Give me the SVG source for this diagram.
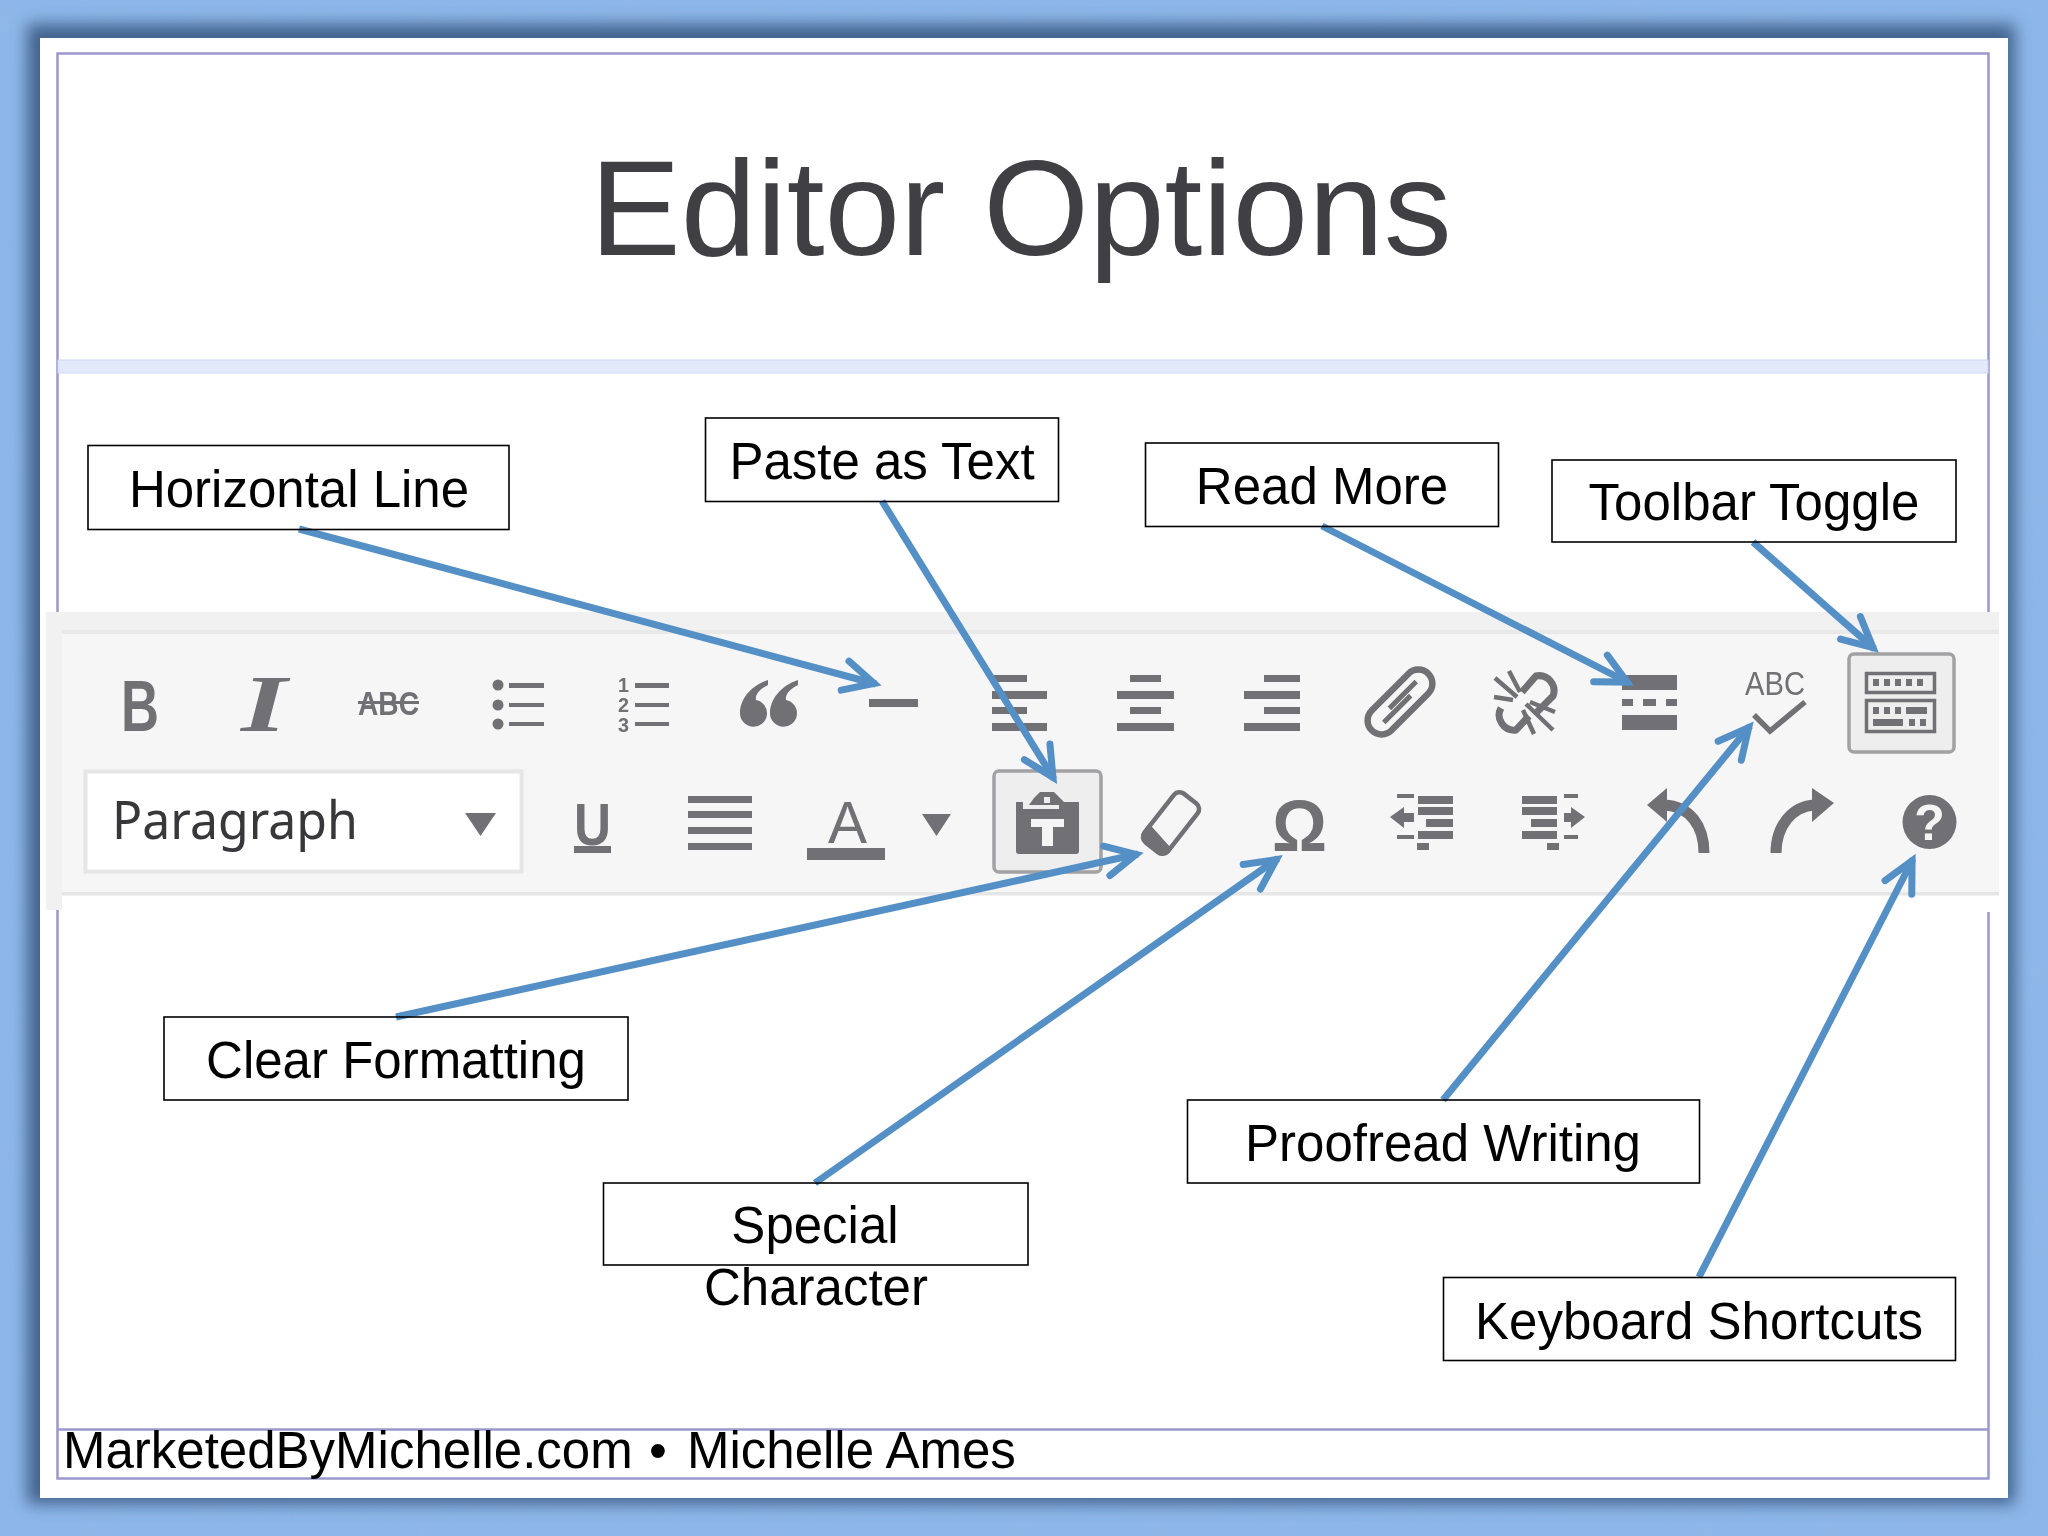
<svg xmlns="http://www.w3.org/2000/svg" width="2048" height="1536" viewBox="0 0 2048 1536">
<style>
.lb{fill:none;stroke:#000;stroke-width:1.6}
.t{font-family:"Liberation Sans",Arial,sans-serif;font-size:51px;fill:#000;text-anchor:middle}
.c{fill:none;stroke:#5490c6;stroke-width:7;marker-end:url(#ah)}
.i{fill:#717074}
.s{fill:none;stroke:#717074}
.it{font-family:"Liberation Sans",Arial,sans-serif;fill:#717074}
</style>
<defs>
<filter id="sh" x="-5%" y="-5%" width="110%" height="110%"><feGaussianBlur stdDeviation="8"/></filter>
<filter id="soft"><feGaussianBlur stdDeviation="0.7"/></filter>
<filter id="mot" x="0" y="0" width="100%" height="100%"><feTurbulence type="fractalNoise" baseFrequency="0.015" numOctaves="3" seed="4"/><feColorMatrix values="0 0 0 0 0.35  0 0 0 0 0.5  0 0 0 0 0.75  0.6 0 0 0 -0.2"/></filter>
<marker id="ah" markerUnits="userSpaceOnUse" markerWidth="60" markerHeight="60" refX="40" refY="30" orient="auto" viewBox="0 0 60 60">
<path d="M8 15 L38 30 L8 45" fill="none" stroke="#5490c6" stroke-width="7" stroke-linecap="round" stroke-linejoin="miter"/>
</marker>
</defs>
<rect width="2048" height="1536" fill="#8db7e9"/>
<rect width="2048" height="1536" filter="url(#mot)" opacity=".35"/>
<rect x="27" y="24" width="1988" height="1480" fill="#3a5a84" opacity=".9" filter="url(#sh)"/>
<rect x="40" y="38" width="1968" height="1460" fill="#fff"/>
<g id="frame" fill="none" stroke="#9a98cc" stroke-width="2.5">
<rect x="57.500" y="53.500" width="1931" height="1425"/>
<line x1="57" y1="1429.500" x2="1989" y2="1429.500"/>
</g>
<rect id="band" x="58" y="360" width="1930" height="13" fill="#e2e9fa" stroke="#ced9f4" stroke-width="1"/>
<text x="1021" y="255" font-family="'Liberation Sans',Arial,sans-serif" font-size="136" fill="#404044" text-anchor="middle">Editor Options</text>
<g id="footer" font-family="'Liberation Sans',Arial,sans-serif" font-size="51" fill="#000">
<text x="63" y="1468">MarketedByMichelle.com</text>
<text x="649" y="1468">•</text>
<text x="687" y="1468">Michelle Ames</text>
</g>

<g id="toolbar">
<rect x="1980" y="893" width="20" height="19" fill="#fff"/>
<rect x="46" y="612" width="1953" height="281" fill="#f6f6f7"/>
<rect x="46" y="612" width="1953" height="18" fill="#f1f1f2"/>
<rect x="60" y="630" width="1939" height="4" fill="#e9e9ea"/>
<rect x="46" y="630" width="16" height="280" fill="#f1f1f2"/>
<rect x="62" y="892" width="1937" height="3.500" fill="#e6e6e7"/>
</g>

<g id="icons" filter="url(#soft)">
<g id="row1">
<text class="it" x="121" y="731" font-size="73" font-weight="bold" textLength="38" lengthAdjust="spacingAndGlyphs">B</text>
<text x="241" y="731" font-family="'Liberation Serif',serif" font-size="80" font-weight="bold" font-style="italic" fill="#717074" textLength="46" lengthAdjust="spacingAndGlyphs">I</text>
<text class="it" x="358" y="715" font-size="33" font-weight="bold" textLength="61" lengthAdjust="spacingAndGlyphs">ABC</text>
<rect class="i" x="358" y="701" width="61" height="3"/>
<g id="bullets">
<circle class="i" cx="498" cy="685" r="5.500"/><circle class="i" cx="498" cy="705" r="5.500"/><circle class="i" cx="498" cy="724" r="5.500"/>
<rect class="i" x="509" y="683" width="35" height="5"/><rect class="i" x="509" y="703" width="35" height="4"/><rect class="i" x="509" y="722" width="35" height="4"/>
</g>
<g id="numbers">
<text class="it" x="618" y="692" font-size="20" font-weight="bold" textLength="11" lengthAdjust="spacingAndGlyphs">1</text>
<text class="it" x="618" y="712" font-size="20" font-weight="bold" textLength="11" lengthAdjust="spacingAndGlyphs">2</text>
<text class="it" x="618" y="732" font-size="20" font-weight="bold" textLength="11" lengthAdjust="spacingAndGlyphs">3</text>
<rect class="i" x="635" y="683" width="34" height="5"/><rect class="i" x="635" y="703" width="34" height="4"/><rect class="i" x="635" y="722" width="34" height="4"/>
</g>
<g id="quote" class="i">
<path id="q1" d="M768 680 C750 686 740 700 740 713 A13.500 13.500 0 1 0 756 700 C755 694 760 689 768 685Z"/>
<path d="M798 680 C780 686 770 700 770 713 A13.500 13.500 0 1 0 786 700 C785 694 790 689 798 685Z"/>
</g>
<rect id="hr" class="i" x="869" y="699" width="49" height="8"/>
<g id="alignleft" class="i"><rect x="992" y="675" width="35" height="7"/><rect x="992" y="691" width="55" height="8"/><rect x="992" y="707" width="35" height="7"/><rect x="992" y="723" width="55" height="8"/></g>
<g id="aligncenter" class="i"><rect x="1130" y="675" width="31" height="7"/><rect x="1117" y="691" width="57" height="8"/><rect x="1130" y="707" width="31" height="7"/><rect x="1117" y="723" width="57" height="8"/></g>
<g id="alignright" class="i"><rect x="1264" y="675" width="36" height="7"/><rect x="1244" y="691" width="56" height="8"/><rect x="1264" y="707" width="36" height="7"/><rect x="1244" y="723" width="56" height="8"/></g>
<g id="link" transform="translate(1400 702) rotate(-45)" fill="none" stroke="#717074" stroke-width="6.500">
<rect x="-40" y="-14" width="80" height="28" rx="14"/>
<path d="M-26 3H12M-12 -3H26" stroke-width="5"/>
</g>
<g id="unlink" fill="none" stroke="#717074" stroke-width="7">
<path d="M1522 692 L1536 676 A15 15 0 0 1 1553 696 L1537 712"/>
<path d="M1501 708 A15 15 0 0 0 1516 730 L1529 716"/>
<path d="M1517 697 L1495 678 M1520 692 L1509 671 M1513 700 L1494 697 M1526 704 L1553 730 M1523 710 L1534 734 M1530 702 L1555 712" stroke-width="4.500"/>
</g>
<g id="readmore" class="i"><rect x="1622" y="675" width="55" height="15"/><rect x="1622" y="699" width="11" height="7"/><rect x="1643" y="699" width="13" height="7"/><rect x="1666" y="699" width="11" height="7"/><rect x="1622" y="715" width="55" height="15"/></g>
<g id="spell">
<text class="it" x="1745" y="695" font-size="33" textLength="60" lengthAdjust="spacingAndGlyphs">ABC</text>
<path class="s" stroke-width="5.500" d="M1754 715 L1770 731 L1805 702"/>
</g>
<g id="toggle">
<rect x="1849" y="654" width="105" height="98" rx="5" fill="#eeeeef" stroke="#a2a2a4" stroke-width="3.500"/>
<rect class="s" x="1866.500" y="673.500" width="68" height="19" stroke-width="3.500"/>
<rect class="s" x="1866.500" y="700.500" width="68" height="31" stroke-width="3.500"/>
<path class="i" d="M1873 679h6v7h-6zM1884 679h6v7h-6zM1895 679h6v7h-6zM1906 679h6v7h-6zM1917 679h6v7h-6z"/>
<path class="i" d="M1873 707h6v7h-6zM1884 707h6v7h-6zM1895 707h6v7h-6zM1906 707h21v7h-21zM1873 719h30v7h-30zM1909 719h6v7h-6zM1920 719h6v7h-6z"/>
</g>
</g>
<g id="row2">
<g id="format">
<rect x="85.500" y="771.500" width="436" height="100" fill="#fff" stroke="#e6e6e7" stroke-width="4"/>
<text x="112" y="839" font-family="'Noto Sans',sans-serif" font-size="52" fill="#38383b" textLength="246" lengthAdjust="spacingAndGlyphs">Paragraph</text>
<path class="i" d="M465 813H496L480.500 836Z"/>
</g>
<text class="it" x="574" y="845" font-size="60" font-weight="bold" textLength="37" lengthAdjust="spacingAndGlyphs">U</text>
<rect class="i" x="574" y="846" width="37" height="7"/>
<g id="justify" class="i"><rect x="688" y="796" width="64" height="7"/><rect x="688" y="811" width="64" height="7"/><rect x="688" y="827" width="64" height="7"/><rect x="688" y="843" width="64" height="7"/></g>
<text class="it" x="828" y="843" font-size="60" textLength="39" lengthAdjust="spacingAndGlyphs">A</text>
<rect class="i" x="807" y="848" width="78" height="12"/>
<path class="i" d="M922 814H951L936.500 836Z"/>
<g id="paste">
<rect x="994" y="771" width="107" height="101" rx="5" fill="#eeeeef" stroke="#a2a2a4" stroke-width="3.500"/>
<path class="i" d="M1016 802h7v7h36v-7h20v49a3 3 0 0 1-3 3h-57a3 3 0 0 1-3-3z"/>
<path class="i" d="M1029 805l5-7 6-6h14l6 6 7 7z"/>
<rect x="1044" y="797" width="6" height="6" fill="#eeeeef"/>
<path d="M1031 819h33v8h-11v19h-11v-19h-11z" fill="#f5f5f6"/>
</g>
<g id="eraser" transform="translate(1171 823) rotate(38)">
<rect x="-15" y="-31" width="30" height="62" rx="7" fill="#f6f6f7" stroke="#717074" stroke-width="4.500"/>
<path class="i" d="M-17 14L17 20V24a7 7 0 0 1-7 7H-10a7 7 0 0 1-7-7Z"/>
</g>
<text x="1272" y="851" font-family="'Liberation Sans',sans-serif" font-size="72" font-weight="bold" fill="#717074" textLength="55" lengthAdjust="spacingAndGlyphs">Ω</text>
<g id="outdent" class="i">
<rect x="1418" y="796" width="35" height="8"/><rect x="1418" y="807" width="35" height="8"/><rect x="1426" y="819" width="27" height="8"/><rect x="1418" y="831" width="35" height="8"/>
<rect x="1397" y="794" width="17" height="4"/><rect x="1397" y="835" width="17" height="4"/><rect x="1417" y="843" width="12" height="7"/>
<path d="M1390 817L1404 807V813H1414V822H1404V828Z"/>
</g>
<g id="indent" class="i">
<rect x="1522" y="796" width="35" height="8"/><rect x="1522" y="807" width="35" height="8"/><rect x="1531" y="819" width="26" height="8"/><rect x="1522" y="831" width="35" height="8"/>
<rect x="1564" y="794" width="14" height="4"/><rect x="1564" y="835" width="14" height="4"/><rect x="1547" y="843" width="12" height="7"/>
<path d="M1585 817L1571 807V813H1564V822H1571V828Z"/>
</g>
<g id="undo">
<path class="i" d="M1647 805L1667 788V822Z"/>
<path class="s" stroke-width="11" d="M1664 805C1690 806 1704 826 1704 853"/>
</g>
<g id="redo">
<path class="i" d="M1834 803L1812 788V822Z"/>
<path class="s" stroke-width="11" d="M1815 805C1792 806 1776 826 1776 853"/>
</g>
<g id="help">
<circle class="i" cx="1929.500" cy="822" r="27"/>
<text x="1929.500" y="840" font-family="'Liberation Sans',sans-serif" font-size="50" font-weight="bold" fill="#f5f5f6" text-anchor="middle">?</text>
</g>
</g>
</g>

<g id="connectors">
<line class="c" x1="299" y1="529" x2="876" y2="684"/>
<line class="c" x1="882" y1="501" x2="1054" y2="779"/>
<line class="c" x1="1322" y1="526" x2="1629" y2="683"/>
<line class="c" x1="1753" y1="542" x2="1874.500" y2="649"/>
<line class="c" x1="396" y1="1017" x2="1138" y2="854"/>
<line class="c" x1="815" y1="1183" x2="1278" y2="858.400"/>
<line class="c" x1="1443" y1="1100" x2="1750" y2="726"/>
<line class="c" x1="1699" y1="1277" x2="1913" y2="859"/>
</g>

<g id="n-horizontal"><rect class="lb" x="88" y="445.500" width="421" height="84"/><text class="t" x="299" y="507">Horizontal Line</text></g>
<g id="n-paste"><rect class="lb" x="705.500" y="418" width="353" height="83.500"/><text class="t" x="882" y="479">Paste as Text</text></g>
<g id="n-readmore"><rect class="lb" x="1145.500" y="443" width="353" height="83.500"/><text class="t" x="1322" y="504">Read More</text></g>
<g id="n-toggle"><rect class="lb" x="1552" y="460" width="404" height="82"/><text class="t" x="1754" y="520">Toolbar Toggle</text></g>
<g id="n-clear"><rect class="lb" x="164" y="1017" width="464" height="83"/><text class="t" x="396" y="1078">Clear Formatting</text></g>
<g id="n-special"><rect class="lb" x="603.500" y="1183" width="424.500" height="82"/><text class="t" x="815" y="1243">Special</text><text class="t" x="816" y="1305">Character</text></g>
<g id="n-proof"><rect class="lb" x="1187.500" y="1100" width="512" height="83"/><text class="t" x="1443" y="1161">Proofread Writing</text></g>
<g id="n-keyboard"><rect class="lb" x="1443.500" y="1277.500" width="512" height="83"/><text class="t" x="1699" y="1339">Keyboard Shortcuts</text></g>
</svg>
